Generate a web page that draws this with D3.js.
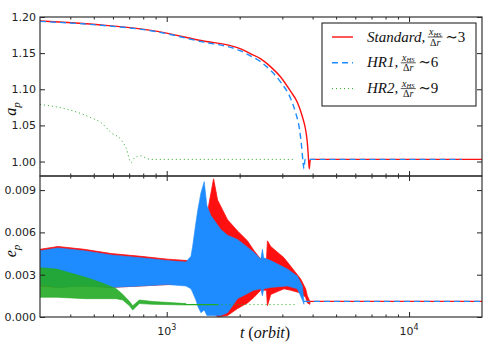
<!DOCTYPE html>
<html>
<head>
<meta charset="utf-8">
<script src="https://cdn.jsdelivr.net/npm/d3@7"></script>
<style>
  body { margin: 0; background: #fff; }
</style>
</head>
<body>
<div id="chart"></div>
<script>
// ---- data ----
// top panel: semi-major axis a_p
const stdT = [300, 537, 861, 1384, 2021, 2223, 2444, 2687, 2952, 3248, 3459, 3630, 3743, 3805, 3850, 3875, 3905, 3940, 20000];
const stdA = [1.1945, 1.189, 1.1815, 1.1675, 1.156, 1.149, 1.142, 1.131, 1.117, 1.097, 1.082, 1.062, 1.044, 1.026, 1.002, 0.990, 1.001, 1.003, 1.003];

const hr1T = [300, 537, 861, 1384, 2021, 2223, 2444, 2687, 2952, 3248, 3400, 3530, 3600, 3650, 3685, 3720, 16500];
const hr1A = [1.194, 1.1885, 1.181, 1.166, 1.153, 1.146, 1.138, 1.126, 1.110, 1.087, 1.068, 1.045, 1.022, 1.000, 0.990, 1.003, 1.003];

const hr2T = [300, 392, 488, 537, 590, 649, 680, 713, 734, 784, 830, 861, 3405];
const hr2A = [1.079, 1.072, 1.0606, 1.0536, 1.040, 1.030, 1.0186, 0.9986, 1.0046, 1.0078, 1.004, 1.003, 1.003];

// bottom panel: eccentricity e_p, upper / lower envelope of the oscillation
const stdEt  = [300, 356, 457, 590, 784, 1010, 1220, 1299, 1400, 1428, 1460, 1497, 1561, 1621, 1782, 1960, 2154, 2293, 2444, 2580, 2604, 2687, 2862, 3048, 3248, 3570, 3743, 3805, 3899];
const stdEhi = [0.0048, 0.0050, 0.0048, 0.0045, 0.0043, 0.0041, 0.0040, 0.0044, 0.0060, 0.0062, 0.0070, 0.0081, 0.0098, 0.0083, 0.0069, 0.0061, 0.0054, 0.0047, 0.0041, 0.0040, 0.0054, 0.0050, 0.0046, 0.0042, 0.0036, 0.0027, 0.0020, 0.0015, 0.0011];
const stdElo = [0.0022, 0.0021, 0.0022, 0.0021, 0.0022, 0.0023, 0.0024, 0.0022, 0.0020, 0.0006, 0.0018, 0.0010, 0.0003, 0.0000, 0.0001, 0.0006, 0.0010, 0.0014, 0.0019, 0.0019, 0.0008, 0.0016, 0.0018, 0.0020, 0.0019, 0.0017, 0.0014, 0.0010, 0.0009];

const hr1Et  = [300, 356, 457, 590, 784, 1010, 1200, 1259, 1279, 1320, 1341, 1384, 1428, 1465, 1521, 1673, 1782, 1960, 2287, 2444, 2483, 2513, 2687, 3148, 3459, 3630, 3684];
const hr1Ehi = [0.0047, 0.0049, 0.0047, 0.0044, 0.0042, 0.0040, 0.0039, 0.0043, 0.0050, 0.0067, 0.0075, 0.0088, 0.0096, 0.0079, 0.0072, 0.0062, 0.0058, 0.0055, 0.0046, 0.0041, 0.0048, 0.0042, 0.0040, 0.0034, 0.0029, 0.0022, 0.0011];
const hr1Elo = [0.0023, 0.0021, 0.0022, 0.0021, 0.0022, 0.0023, 0.0022, 0.0020, 0.00175, 0.0012, 0.0008, 0.0003, 0.0005, 0.0001, 0.0001, 0.0001, 0.0003, 0.0013, 0.0019, 0.0020, 0.0015, 0.0020, 0.0021, 0.0022, 0.0020, 0.0012, 0.0009];

const hr2Et  = [300, 350, 466, 545, 619, 659, 702, 724, 771, 876, 1201];
const hr2Ehi = [0.0035, 0.0034, 0.0028, 0.0024, 0.0020, 0.0016, 0.0011, 0.0008, 0.0012, 0.0011, 0.00095];
const hr2Elo = [0.0014, 0.0014, 0.0013, 0.0013, 0.0013, 0.0012, 0.0008, 0.0005, 0.00095, 0.0009, 0.00085];

// settled eccentricity after the jump
const stdTail = { t: [3899, 20000], e: [0.00111, 0.00111] };
const hr1Tail = { t: [3684, 20000], e: [0.00111, 0.00111] };
const hr2Tail = { t: [1201, 1621, 3405], e: [0.00088, 0.00088, 0.00088] };

// axes
const tDomain = [300, 20000];
const tMajor = [1000, 10000];
const tMinor = [400, 500, 600, 700, 800, 900, 2000, 3000, 4000, 5000, 6000, 7000, 8000, 9000];
const aTicks = [1.00, 1.05, 1.10, 1.15, 1.20];
const eTicks = [0, 0.003, 0.006, 0.009];

const seriesNames = ["Standard", "HR1", "HR2"];
const seriesRatio = ["3", "6", "9"];

// ---- drawing ----
const W = 491, H = 353;
const left = 40, right = 482;
const topY0 = 17, split = 176, botY1 = 317;
const red = "#ff1010", blue = "#1e8cff", green = "#22aa22";
const sans = "'DejaVu Sans', sans-serif";
const serif = "'Liberation Serif', 'DejaVu Serif', serif";

const svg = d3.select("#chart").append("svg")
  .attr("width", W).attr("height", H);

const x = d3.scaleLog().domain(tDomain).range([left, right]);
const yA = d3.scaleLinear().domain([0.98, 1.20]).range([split, topY0]);
const yE = d3.scaleLinear().domain([0, 0.01]).range([botY1, split]);

const defs = svg.append("defs");
defs.append("clipPath").attr("id", "clipTop").append("rect")
  .attr("x", left).attr("y", topY0).attr("width", right - left).attr("height", split - topY0);
defs.append("clipPath").attr("id", "clipBot").append("rect")
  .attr("x", left).attr("y", split).attr("width", right - left).attr("height", botY1 - split);

// top panel lines
const gTop = svg.append("g").attr("clip-path", "url(#clipTop)");
const lineA = d3.line().x(d => x(d[0])).y(d => yA(d[1])).curve(d3.curveMonotoneX);

gTop.append("path")
  .datum(d3.zip(stdT, stdA))
  .attr("fill", "none").attr("stroke", red).attr("stroke-width", 1.4)
  .attr("d", lineA);
gTop.append("path")
  .datum(d3.zip(hr1T, hr1A))
  .attr("fill", "none").attr("stroke", blue).attr("stroke-width", 1.4)
  .attr("stroke-dasharray", "6,4")
  .attr("d", lineA);
gTop.append("path")
  .datum(d3.zip(hr2T, hr2A))
  .attr("fill", "none").attr("stroke", green).attr("stroke-width", 1)
  .attr("stroke-dasharray", "1,3")
  .attr("d", lineA);

// bottom panel bands
const gBot = svg.append("g").attr("clip-path", "url(#clipBot)");
const band = d3.area().x(d => x(d[0])).y0(d => yE(d[2])).y1(d => yE(d[1]));
const lineE = d3.line().x(d => x(d[0])).y(d => yE(d[1]));

gBot.append("path")
  .datum(d3.zip(stdEt, stdEhi, stdElo))
  .attr("fill", red).attr("stroke", red).attr("stroke-width", 0.8)
  .attr("d", band);
gBot.append("path")
  .datum(d3.zip(hr1Et, hr1Ehi, hr1Elo))
  .attr("fill", blue).attr("stroke", blue).attr("stroke-width", 0.6)
  .attr("d", band);
gBot.append("path")
  .datum(d3.zip(hr2Et, hr2Ehi, hr2Elo))
  .attr("fill", green).attr("fill-opacity", 0.9).attr("stroke", green).attr("stroke-width", 0.6)
  .attr("d", band);

gBot.append("path")
  .datum(d3.zip(stdTail.t, stdTail.e))
  .attr("fill", "none").attr("stroke", red).attr("stroke-width", 1.4)
  .attr("d", lineE);
gBot.append("path")
  .datum(d3.zip(hr1Tail.t, hr1Tail.e))
  .attr("fill", "none").attr("stroke", blue).attr("stroke-width", 1.4)
  .attr("stroke-dasharray", "6,4")
  .attr("d", lineE);
// green: solid while it still oscillates, dotted afterwards
gBot.append("path")
  .datum(d3.zip(hr2Tail.t.slice(0, 2), hr2Tail.e.slice(0, 2)))
  .attr("fill", "none").attr("stroke", green).attr("stroke-width", 1.4)
  .attr("d", lineE);
gBot.append("path")
  .datum(d3.zip(hr2Tail.t.slice(1), hr2Tail.e.slice(1)))
  .attr("fill", "none").attr("stroke", green).attr("stroke-width", 1)
  .attr("stroke-dasharray", "1,3")
  .attr("d", lineE);

// ---- axes, ticks pointing inward ----
function noDomain(g) { g.select(".domain").remove(); }

function xTicks(yPos, top) {
  const mk = top ? d3.axisTop : d3.axisBottom;
  svg.append("g").attr("transform", `translate(0,${yPos})`)
    .call(mk(x).tickValues(tMajor).tickSize(-5).tickFormat(""))
    .call(noDomain);
  svg.append("g").attr("transform", `translate(0,${yPos})`)
    .call(mk(x).tickValues(tMinor).tickSize(-2.5).tickFormat(""))
    .call(noDomain);
}
xTicks(topY0, true);
xTicks(split, false);
xTicks(split, true);
xTicks(botY1, false);

function yTicks(scale, vals, fmt) {
  svg.append("g").attr("transform", `translate(${left},0)`)
    .call(d3.axisLeft(scale).tickValues(vals).tickSize(-5).tickPadding(4).tickFormat(d3.format(fmt)))
    .call(noDomain)
    .call(g => g.selectAll("text")
      .attr("font-family", sans).attr("font-size", 11).attr("fill", "#222"));
  svg.append("g").attr("transform", `translate(${right},0)`)
    .call(d3.axisRight(scale).tickValues(vals).tickSize(-5).tickFormat(""))
    .call(noDomain);
}
yTicks(yA, aTicks, ".2f");
yTicks(yE, eTicks, ".3f");

svg.selectAll(".tick line").attr("stroke", "#222");

// frames
[[topY0, split], [split, botY1]].forEach(([a, b]) => {
  svg.append("rect")
    .attr("x", left).attr("y", a).attr("width", right - left).attr("height", b - a)
    .attr("fill", "none").attr("stroke", "#333").attr("stroke-width", 1.2);
});

// x tick labels 10^3, 10^4
tMajor.forEach(t => {
  const txt = svg.append("text")
    .attr("x", x(t)).attr("y", 335)
    .attr("text-anchor", "middle")
    .attr("font-family", sans).attr("font-size", 11).attr("fill", "#222");
  txt.append("tspan").text("10");
  txt.append("tspan").attr("dy", -5).attr("font-size", 8).text(Math.round(Math.log10(t)));
});

// axis titles
const xl = svg.append("text")
  .attr("x", 265).attr("y", 338)
  .attr("text-anchor", "middle")
  .attr("font-family", serif).attr("font-size", 16).attr("fill", "#111");
xl.append("tspan").attr("font-style", "italic").text("t");
xl.append("tspan").text(" (");
xl.append("tspan").attr("font-style", "italic").text("orbit");
xl.append("tspan").text(")");

function yLabel(letter, cy) {
  const t = svg.append("text")
    .attr("transform", `translate(16,${cy}) rotate(-90)`)
    .attr("text-anchor", "middle")
    .attr("font-family", serif).attr("font-size", 16).attr("font-style", "italic").attr("fill", "#111");
  t.append("tspan").text(letter);
  t.append("tspan").attr("dy", 4).attr("font-size", 11).text("p");
}
yLabel("a", 109);
yLabel("e", 251);

// ---- legend ----
const lg = svg.append("g");
lg.append("rect")
  .attr("x", 322).attr("y", 23).attr("width", 154).attr("height", 83)
  .attr("fill", "#fff").attr("stroke", "#111").attr("stroke-width", 1);

const legendStyles = [
  { color: red, dash: null, width: 1.4 },
  { color: blue, dash: "6,4", width: 1.4 },
  { color: green, dash: "1,3", width: 1 }
];

seriesNames.forEach((name, i) => {
  const base = 41.5 + i * 25.8;
  const mid = base - 4.5;
  const st = legendStyles[i];
  lg.append("line")
    .attr("x1", 332).attr("x2", 353).attr("y1", mid).attr("y2", mid)
    .attr("stroke", st.color).attr("stroke-width", st.width)
    .attr("stroke-dasharray", st.dash);

  const label = lg.append("text")
    .attr("x", 367).attr("y", base)
    .attr("font-family", serif).attr("font-size", 15).attr("font-style", "italic").attr("fill", "#111")
    .text(name + ",");
  const w = label.node().getComputedTextLength();
  const cx = 367 + w + 10;

  const num = lg.append("text")
    .attr("x", cx).attr("y", mid - 2)
    .attr("text-anchor", "middle")
    .attr("font-family", serif).attr("font-size", 10).attr("font-style", "italic").attr("fill", "#111");
  num.append("tspan").text("x");
  num.append("tspan").attr("dy", 1.5).attr("font-size", 6.5).text("HS");
  lg.append("line")
    .attr("x1", cx - 7.5).attr("x2", cx + 7.5).attr("y1", mid).attr("y2", mid)
    .attr("stroke", "#111").attr("stroke-width", 0.7);
  const den = lg.append("text")
    .attr("x", cx).attr("y", mid + 8.5)
    .attr("text-anchor", "middle")
    .attr("font-family", serif).attr("font-size", 10).attr("fill", "#111");
  den.append("tspan").text("Δ");
  den.append("tspan").attr("font-style", "italic").text("r");

  lg.append("text")
    .attr("x", cx + 10).attr("y", base)
    .attr("font-family", serif).attr("font-size", 15).attr("fill", "#111")
    .text("∼" + seriesRatio[i]);
});
</script>
</body>
</html>
